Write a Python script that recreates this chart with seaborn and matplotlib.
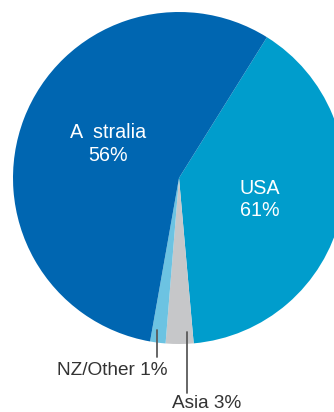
import matplotlib
matplotlib.use("Agg")
import matplotlib.pyplot as plt
import seaborn as sns

# Regional shares (clockwise from the USA wedge)
regions = ["USA", "Asia", "NZ/Other", "Australia"]
shares = [39.7, 2.7, 1.5, 56.1]
labels = ["USA\n61%", "Asia 3%", "NZ/Other 1%", "A  stralia\n56%"]
colors = ["#009dcc", "#c6c7c9", "#6cc3e2", "#0066b1"]

sns.set_theme(style="white")
plt.rcParams["font.family"] = ["Liberation Sans", "DejaVu Sans"]

W, H = 334, 412
fig = plt.figure(figsize=(W / 100, H / 100), dpi=100)
cx, cy, r = 179, 178, 166
ax = fig.add_axes([(cx - r) / W, (H - cy - r) / H, 2 * r / W, 2 * r / H])

wedges, _ = ax.pie(shares, colors=colors, startangle=58, counterclock=False,
                   radius=1.0, wedgeprops=dict(linewidth=0))
ax.set_xlim(-1, 1)
ax.set_ylim(-1, 1)
ax.set_aspect("auto")
ax.axis("off")

# Inside labels
ax.text(-0.428, 0.205, labels[3], color="white", fontsize=14.2,
        ha="center", va="center", linespacing=1.22)
ax.text(0.488, -0.13, labels[0], color="white", fontsize=14.2,
        ha="center", va="center", linespacing=1.22)

# Outside labels with leader lines
line_kw = dict(color="#5a5a5a", linewidth=1.3, clip_on=False)
ax.plot([-0.133, -0.133], [-0.916, -1.078], **line_kw)
ax.text(-0.404, -1.157, labels[2], color="#333333", fontsize=13.7,
        ha="center", va="center", clip_on=False)
ax.plot([0.048, 0.048], [-0.928, -1.295], **line_kw)
ax.text(0.169, -1.358, labels[1], color="#333333", fontsize=13.7,
        ha="center", va="center", clip_on=False)

fig.savefig("out.png", dpi=100, facecolor="white")
